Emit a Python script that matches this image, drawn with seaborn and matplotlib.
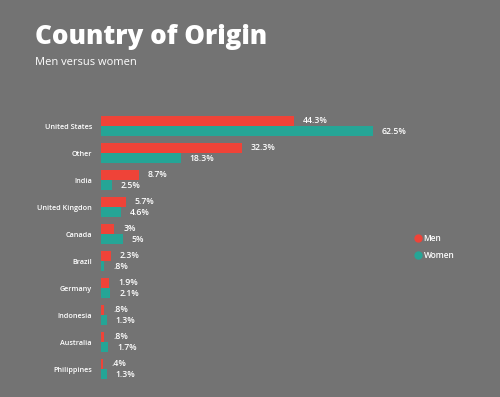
import matplotlib
matplotlib.use("Agg")
import matplotlib.pyplot as plt
import pandas as pd
import seaborn as sns
from matplotlib.lines import Line2D

countries = ["United States", "Other", "India", "United Kingdon", "Canada",
             "Brazil", "Germany", "Indonesia", "Australia", "Philippines"]
men = [44.3, 32.3, 8.7, 5.7, 3, 2.3, 1.9, 0.8, 0.8, 0.4]
women = [62.5, 18.3, 2.5, 4.6, 5, 0.8, 2.1, 1.3, 1.7, 1.3]

BG = "#737373"
RED = "#ef4338"
TEAL = "#25a596"

df = pd.DataFrame({
    "country": countries * 2,
    "pct": men + women,
    "sex": ["Men"] * len(countries) + ["Women"] * len(countries),
})

sns.set_theme(style="white")
plt.rcParams["font.family"] = ["Open Sans", "DejaVu Sans"]

fig = plt.figure(figsize=(5, 3.97), dpi=100, facecolor=BG)
ax = fig.add_axes([0.202, 0.0365, 0.78, 0.68], facecolor=BG)

sns.barplot(data=df, x="pct", y="country", hue="sex", orient="h",
            palette={"Men": RED, "Women": TEAL}, width=0.76,
            saturation=1, linewidth=0, ax=ax, legend=False)


def fmt(v):
    s = f"{v:g}"
    if s.startswith("0."):
        s = s[1:]
    return s + "%"


for cont in ax.containers:
    vals = [b.get_width() for b in cont]
    ax.bar_label(cont, labels=[fmt(v) for v in vals], padding=6.5,
                 color="white", fontsize=6.2, fontweight="semibold")

ax.set_xlim(0, 89.6)
ax.set_ylim(9.5, -0.5)
ax.set_xlabel("")
ax.set_ylabel("")
ax.set_xticks([])
ax.tick_params(axis="y", length=0, pad=6.5, labelsize=5.2, labelcolor="white")
for lab in ax.get_yticklabels():
    lab.set_fontweight("semibold")
for s in ax.spines.values():
    s.set_visible(False)

handles = [Line2D([], [], marker="o", linestyle="", color=RED, markersize=6,
                  markeredgewidth=0),
           Line2D([], [], marker="o", linestyle="", color=TEAL, markersize=6,
                  markeredgewidth=0)]
leg = fig.legend(handles, ["Men", "Women"], loc="upper left",
                 bbox_to_anchor=(0.812, 0.43), frameon=False, fontsize=6,
                 labelcolor="white", handletextpad=0.2, labelspacing=1.0,
                 handlelength=1)
for t in leg.get_texts():
    t.set_fontweight("semibold")

fig.text(0.07, 0.888, "Country of Origin", fontsize=18.7, fontweight="heavy",
         color="white", va="baseline")
fig.text(0.07, 0.837, "Men versus women", fontsize=8, color="white",
         va="baseline")

fig.savefig("out.png", dpi=100, facecolor=BG)
